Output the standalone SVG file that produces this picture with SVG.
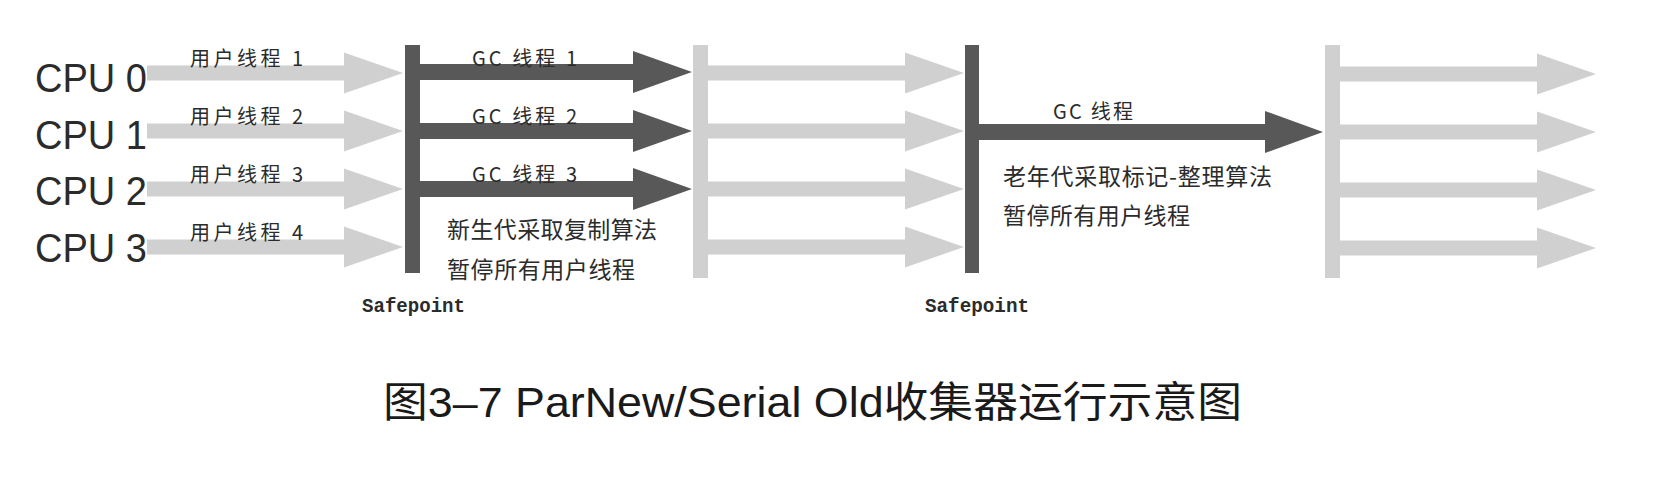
<svg xmlns="http://www.w3.org/2000/svg" xmlns:xlink="http://www.w3.org/1999/xlink" width="1672" height="482" viewBox="0 0 1672 482">
<style>
.cpu{font-family:"Liberation Sans",Arial,sans-serif;font-size:40px;fill:#2b2b2b}
.lbl{font-family:"Noto Sans CJK SC","Liberation Sans",sans-serif;font-size:20px;fill:#2b2b2b}
.note{font-family:"Noto Sans CJK SC","Liberation Sans",sans-serif;font-size:23px;fill:#2b2b2b}
.sp{font-family:"Liberation Mono","Courier New",monospace;font-size:20px;font-weight:bold;fill:#2b2b2b}
.title{font-family:"Liberation Sans","Noto Sans CJK SC",sans-serif;font-size:42px;fill:#1a1a1a}
.light{fill:#d0d0d0}
.dark{fill:#585858}
</style>
<defs>
<path id="la" d="M0,-7.5 H197 V-20.5 L256,0 L197,20.5 V7.5 H0 Z"/>
<path id="da" d="M0,-8 H215 V-21 L274,0 L215,21 V8 H0 Z"/>
</defs>
<rect width="1672" height="482" fill="#ffffff"/>

<g id="connectors">
  <g class="light">
    <use xlink:href="#la" x="147" y="73"/>
    <use xlink:href="#la" x="147" y="131"/>
    <use xlink:href="#la" x="147" y="189"/>
    <use xlink:href="#la" x="147" y="247"/>
    <use xlink:href="#la" x="708" y="73"/>
    <use xlink:href="#la" x="708" y="131"/>
    <use xlink:href="#la" x="708" y="189"/>
    <use xlink:href="#la" x="708" y="247"/>
    <use xlink:href="#la" x="1340" y="74"/>
    <use xlink:href="#la" x="1340" y="132"/>
    <use xlink:href="#la" x="1340" y="190"/>
    <use xlink:href="#la" x="1340" y="248"/>
  </g>
  <g class="dark">
    <use xlink:href="#da" x="418" y="72"/>
    <use xlink:href="#da" x="418" y="131"/>
    <use xlink:href="#da" x="418" y="189"/>
    <path d="M978,124 H1265 V111 L1323,132 L1265,153 V140 H978 Z"/>
  </g>
</g>

<g id="cpu0"><text class="cpu" x="35" y="92" textLength="112" lengthAdjust="spacingAndGlyphs">CPU 0</text></g>
<g id="cpu1"><text class="cpu" x="35" y="149" textLength="112" lengthAdjust="spacingAndGlyphs">CPU 1</text></g>
<g id="cpu2"><text class="cpu" x="35" y="205" textLength="112" lengthAdjust="spacingAndGlyphs">CPU 2</text></g>
<g id="cpu3"><text class="cpu" x="35" y="262" textLength="112" lengthAdjust="spacingAndGlyphs">CPU 3</text></g>

<g id="user-labels">
  <text class="lbl" x="190" y="66" textLength="113">用户线程 1</text>
  <text class="lbl" x="190" y="124" textLength="113">用户线程 2</text>
  <text class="lbl" x="190" y="182" textLength="113">用户线程 3</text>
  <text class="lbl" x="190" y="240" textLength="113">用户线程 4</text>
</g>

<g id="safepoint1">
  <rect class="dark" x="405" y="45" width="15" height="228"/>
  <text class="sp" x="362" y="312" textLength="103" lengthAdjust="spacingAndGlyphs">Safepoint</text>
</g>

<g id="gc-new">
  <text class="lbl" x="472" y="66" textLength="105">GC 线程 1</text>
  <text class="lbl" x="472" y="124" textLength="105">GC 线程 2</text>
  <text class="lbl" x="472" y="182" textLength="105">GC 线程 3</text>
  <text class="note" x="447" y="238" textLength="210">新生代采取复制算法</text>
  <text class="note" x="447" y="278" textLength="188">暂停所有用户线程</text>
</g>

<g id="resume1">
  <rect class="light" x="693" y="45" width="15" height="233"/>
</g>

<g id="safepoint2">
  <rect class="dark" x="965" y="45" width="14" height="228"/>
  <text class="sp" x="925" y="312" textLength="104" lengthAdjust="spacingAndGlyphs">Safepoint</text>
</g>

<g id="gc-old">
  <text class="lbl" x="1053" y="119" textLength="80">GC 线程</text>
  <text class="note" x="1003" y="185" textLength="269">老年代采取标记-整理算法</text>
  <text class="note" x="1003" y="224" textLength="187">暂停所有用户线程</text>
</g>

<g id="resume2">
  <rect class="light" x="1325" y="45" width="15" height="233"/>
</g>

<g id="caption">
  <text class="title" x="383" y="417" textLength="859" lengthAdjust="spacingAndGlyphs">图3–7 ParNew/Serial Old收集器运行示意图</text>
</g>
</svg>
